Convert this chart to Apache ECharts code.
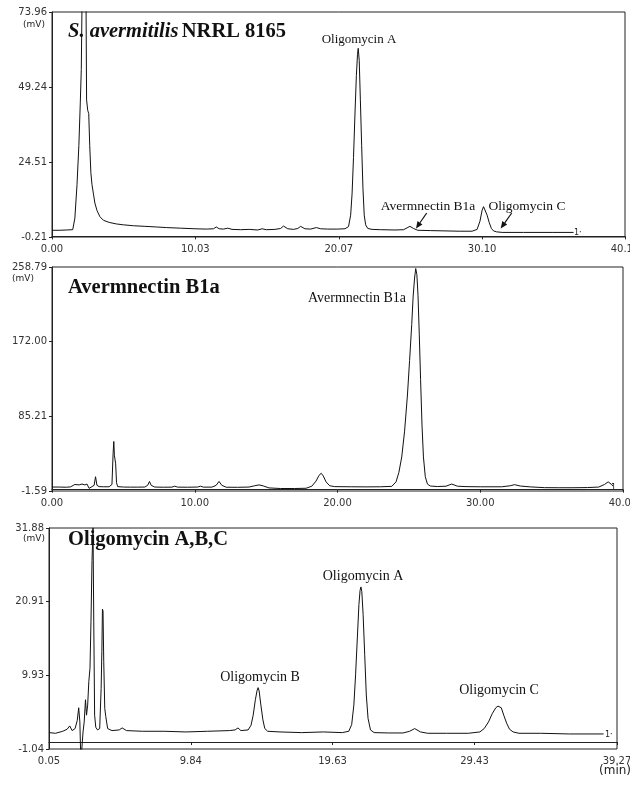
<!DOCTYPE html>
<html><head><meta charset="utf-8">
<script src="https://cdn.jsdelivr.net/npm/echarts@6/dist/echarts.min.js"></script>
<style>html,body{margin:0;padding:0;background:#fff}#c{width:630px;height:785px}</style>
</head><body><div id="c"></div>
<script>
// ---- Panel 1: S. avermitilis NRRL 8165 ----
const times1 = [0, 0.5, 1.0, 1.45, 1.6, 1.75, 1.88, 1.98, 2.05, 2.12, 2.2, 2.3, 2.38, 2.42, 2.5, 2.57, 2.64, 2.72, 2.8, 2.9, 3.0, 3.15, 3.35, 3.6, 4.0, 4.5, 5.0, 5.7, 6.5, 7.3, 8.0, 9.0, 10.0, 10.8, 11.3, 11.5, 11.7, 12.0, 12.3, 12.6, 13.2, 13.8, 14.4, 14.7, 15.0, 15.6, 16.0, 16.2, 16.5, 16.9, 17.2, 17.4, 17.7, 18.1, 18.5, 18.8, 19.3, 20.0, 20.5, 20.75, 20.9, 21.0, 21.1, 21.2, 21.3, 21.38, 21.43, 21.5, 21.58, 21.67, 21.76, 21.85, 21.95, 22.1, 22.4, 23.0, 24.0, 24.6, 24.85, 25.05, 25.3, 25.6, 26.5, 27.5, 28.5, 29.4, 29.75, 29.95, 30.1, 30.2, 30.3, 30.45, 30.6, 30.75, 30.9, 31.1, 31.5, 33, 35, 36.5];
const values1 = [2.0, 2.0, 2.1, 2.2, 6, 17, 30, 44, 55, 85, 98, 90, 78, 45, 41.5, 40.5, 30, 21, 17, 14, 11, 8.5, 6.5, 5.3, 4.6, 4.1, 3.8, 3.5, 3.3, 3.1, 2.9, 2.7, 2.5, 2.4, 2.5, 3.1, 2.5, 2.4, 2.7, 2.3, 2.2, 2.3, 2.1, 2.5, 2.2, 2.3, 2.6, 3.4, 2.5, 2.3, 2.6, 3.3, 2.5, 2.4, 2.9, 2.5, 2.4, 2.4, 2.5, 3.2, 7, 14, 26, 40, 53, 60, 62, 58, 45, 30, 16, 7, 3.8, 2.6, 2.3, 2.2, 2.1, 2.2, 2.8, 3.3, 2.6, 2.0, 1.9, 1.8, 1.7, 1.7, 2.3, 5, 8.6, 9.8, 9.4, 7, 4.5, 2.6, 1.8, 1.5, 1.3, 1.3, 1.3, 1.3];
const yTicks1 = [-0.21, 24.51, 49.24, 73.96];
const xTicks1 = [0.00, 10.03, 20.07, 30.10, 40.10];

// ---- Panel 2: Avermectin B1a standard ----
const times2 = [0, 0.5, 1.0, 1.3, 1.6, 1.9, 2.1, 2.3, 2.45, 2.6, 2.8, 2.95, 3.05, 3.15, 3.3, 3.6, 4.0, 4.2, 4.28, 4.33, 4.37, 4.41, 4.46, 4.52, 4.6, 5.0, 5.5, 6.0, 6.5, 6.7, 6.83, 6.95, 7.2, 7.8, 8.4, 8.6, 8.8, 9.5, 10.2, 10.4, 10.6, 11.2, 11.5, 11.7, 11.9, 12.2, 13.0, 13.8, 14.2, 14.5, 14.8, 15.2, 16.0, 17.0, 17.8, 18.2, 18.5, 18.7, 18.86, 19.0, 19.2, 19.45, 19.8, 21, 22, 23, 23.8, 24.1, 24.3, 24.5, 24.7, 24.9, 25.05, 25.2, 25.3, 25.4, 25.48, 25.56, 25.64, 25.73, 25.82, 25.92, 26.02, 26.15, 26.3, 26.5, 27.0, 27.6, 28.0, 28.4, 29.0, 30.0, 31.5, 32.1, 32.4, 32.8, 33.5, 34.5, 35.5, 36.5, 37.5, 38.3, 38.7, 38.96, 39.2, 39.3];
const values2 = [3.0, 3.0, 2.8, 3.2, 6, 5.5, 6.5, 5.5, 6.5, 1.5, 3.5, 5, 15, 5, 3.5, 3.3, 3.3, 6, 42, 56, 40, 42, 30, 8, 3.5, 3.0, 2.9, 2.9, 3.0, 5, 9.5, 5, 3.0, 2.8, 2.9, 4.0, 2.9, 2.8, 3.0, 4.0, 2.9, 2.9, 5, 9.5, 5, 2.8, 2.7, 3.0, 4.5, 5.5, 4.3, 2.0, 1.3, 1.3, 1.6, 4, 10, 16.5, 19, 16, 9, 4.5, 3.5, 3.3, 3.2, 3.3, 3.8, 9, 20, 38, 68, 110, 150, 192, 225, 246, 257, 250, 226, 180, 128, 75, 38, 15, 6.5, 4.2, 3.6, 4.0, 6.5, 4.0, 3.5, 3.3, 3.3, 4.5, 5.8, 4.2, 3.2, 2.3, 2.2, 2.2, 2.4, 3.0, 6, 9, 6, 4];
const yTicks2 = [-1.59, 85.21, 172.00, 258.79];
const xTicks2 = [0.00, 10.00, 20.00, 30.00, 40.00];

// ---- Panel 3: Oligomycin A,B,C standards ----
const times3 = [0.05, 0.5, 1.0, 1.3, 1.48, 1.65, 1.85, 2.0, 2.1, 2.18, 2.25, 2.32, 2.4, 2.48, 2.57, 2.64, 2.72, 2.8, 2.88, 2.95, 3.02, 3.09, 3.14, 3.2, 3.28, 3.4, 3.55, 3.65, 3.7, 3.74, 3.78, 3.83, 3.9, 3.97, 4.1, 4.4, 4.9, 5.1, 5.4, 6.5, 8, 9.5, 11, 12.5, 12.9, 13.1, 13.3, 13.8, 14.0, 14.15, 14.3, 14.42, 14.49, 14.56, 14.68, 14.82, 14.95, 15.15, 16, 17.5, 19, 20.3, 20.75, 20.95, 21.1, 21.22, 21.34, 21.45, 21.53, 21.59, 21.65, 21.74, 21.85, 21.96, 22.08, 22.25, 22.5, 23.5, 24.5, 24.95, 25.3, 25.7, 26.2, 27.5, 29.0, 29.8, 30.1, 30.4, 30.65, 30.9, 31.05, 31.15, 31.28, 31.45, 31.65, 31.85, 32.1, 32.5, 34, 36, 38.34];
const values3 = [1.4, 1.3, 1.6, 1.9, 2.4, 1.7, 2.0, 3.2, 5.1, 3.0, -3, -3, 1.5, 3.0, 6.3, 4.0, 5.5, 9, 11, 18, 27, 31.9, 18, 4, 2.2, 1.8, 2.0, 8, 13.5, 19.8, 19.5, 12, 5, 3.8, 2.0, 1.7, 1.8, 2.1, 1.7, 1.6, 1.6, 1.5, 1.6, 1.7, 1.8, 2.1, 1.7, 1.8, 2.5, 4, 6.3, 7.7, 8.1, 7.6, 5.5, 3.3, 2.0, 1.6, 1.5, 1.4, 1.5, 1.4, 1.6, 2.6, 5.5, 10, 15.5, 20.5, 22.6, 23.1, 22.4, 19, 13, 7, 3.5, 1.8, 1.4, 1.35, 1.35, 1.6, 2.0, 1.5, 1.3, 1.3, 1.3, 1.5, 2.0, 3.0, 4.2, 5.1, 5.35, 5.4, 5.1, 4.0, 2.8, 1.9, 1.5, 1.3, 1.3, 1.2, 1.2];
const yTicks3 = [-1.04, 9.93, 20.91, 31.88];
const xTicks3 = [0.05, 9.84, 19.63, 29.43, 39.27];

const pair = (t, v) => t.map((x, i) => [x, v[i]]);
const SERIF = '"Liberation Serif","Times New Roman",serif';
const SANS = '"DejaVu Sans",sans-serif';
const LBL = {color: '#333', fontFamily: SANS, fontSize: 10};

function xAxis(idx, ticks) {
  return {
    type: 'value', gridIndex: idx, min: ticks[0], max: ticks[ticks.length - 1],
    axisLine: {show: true, lineStyle: {color: '#222', width: 1}},
    axisTick: {show: true, customValues: ticks, length: 3, inside: false, lineStyle: {color: '#222'}},
    axisLabel: Object.assign({customValues: ticks, margin: 7, formatter: v => v.toFixed(2)}, LBL),
    splitLine: {show: false}
  };
}
function yAxis(idx, ticks) {
  return {
    type: 'value', gridIndex: idx, min: ticks[0], max: ticks[ticks.length - 1],
    axisLine: {show: true, lineStyle: {color: '#222', width: 1}},
    axisTick: {show: true, customValues: ticks, length: 3, lineStyle: {color: '#222'}},
    axisLabel: Object.assign({customValues: ticks, margin: 5, formatter: v => v.toFixed(2)}, LBL),
    splitLine: {show: false}
  };
}
function ann(text, x, y, size) {
  return {type: 'text', x: x, y: y, style: {text: text, font: 'normal ' + size + 'px ' + SERIF, fill: '#111', align: 'center', verticalAlign: 'middle'}};
}
function small(text, x, y, size, align) {
  return {type: 'text', x: x, y: y, style: {text: text, font: size + 'px ' + SANS, fill: '#222', align: align || 'left', verticalAlign: 'middle'}};
}
function arrow(x1, y1, x2, y2) {
  const dx = x2 - x1, dy = y2 - y1, L = Math.hypot(dx, dy);
  const ux = dx / L, uy = dy / L, nx = -uy, ny = ux, h = 7, w = 3;
  const bx = x2 - h * ux, by = y2 - h * uy;
  return [
    {type: 'line', shape: {x1: x1, y1: y1, x2: bx, y2: by}, style: {stroke: '#111', lineWidth: 1.2}},
    {type: 'polygon', shape: {points: [[x2, y2], [bx + w * nx, by + w * ny], [bx - w * nx, by - w * ny]]}, style: {fill: '#111'}}
  ];
}

const lineSeries = (xi, data) => ({
  type: 'line', xAxisIndex: xi, yAxisIndex: xi, data: data, showSymbol: false, symbol: 'none',
  lineStyle: {color: '#111', width: 1}, itemStyle: {color: '#111'}, clip: true, animation: false
});

const grid = (left, top, width, height) => ({left: left, top: top, width: width, height: height, containLabel: false, outerBoundsMode: 'none', show: true, borderColor: '#222', borderWidth: 1, backgroundColor: 'transparent'});

const chart = echarts.init(document.getElementById('c'), null, {renderer: 'canvas'});
chart.setOption({
  animation: false,
  backgroundColor: '#fff',
  grid: [grid(52, 12, 573, 225), grid(52, 267, 571, 224), grid(49, 528, 568, 221)],
  xAxis: [xAxis(0, xTicks1), xAxis(1, xTicks2), xAxis(2, xTicks3)],
  yAxis: [yAxis(0, yTicks1), yAxis(1, yTicks2), yAxis(2, yTicks3)],
  series: [lineSeries(0, pair(times1, values1)), lineSeries(1, pair(times2, values2)), lineSeries(2, pair(times3, values3))],
  graphic: [
    {type: 'text', x: 68, y: 32, style: {
      text: '{i|S. avermitilis} {b|NRRL 8165}', verticalAlign: 'middle', align: 'left',
      rich: {i: {font: 'italic bold 20.5px ' + SERIF, fill: '#111'}, b: {font: 'bold 20.5px ' + SERIF, fill: '#111'}}
    }},
    {type: 'text', x: 68, y: 288, style: {text: 'Avermnectin B1a', font: 'bold 20.5px ' + SERIF, fill: '#111', align: 'left', verticalAlign: 'middle'}},
    {type: 'text', x: 68, y: 540, style: {text: 'Oligomycin A,B,C', font: 'bold 20.5px ' + SERIF, fill: '#111', align: 'left', verticalAlign: 'middle'}},
    small('(mV)', 23, 25, 9), small('(mV)', 12, 279, 9), small('(mV)', 23, 539, 9),
    ann('Oligomycin A', 359, 40, 13),
    ann('Avermnectin B1a', 428, 206, 13.5),
    ann('Oligomycin C', 527, 206, 13.5),
    ...arrow(426.7, 213, 416, 228.5),
    ...arrow(511.7, 213, 500.7, 228.5),
    ann('Avermnectin B1a', 357, 298, 14),
    ann('Oligomycin B', 260, 677, 14),
    ann('Oligomycin A', 363, 576, 14),
    ann('Oligomycin C', 499, 690, 14),
    small('1\u00b7', 574, 233, 8), small('1', 611, 488, 8), small('1\u00b7', 605, 735, 8),
    small('(min)', 615, 771, 12, 'center')
  ]
});
</script></body></html>
